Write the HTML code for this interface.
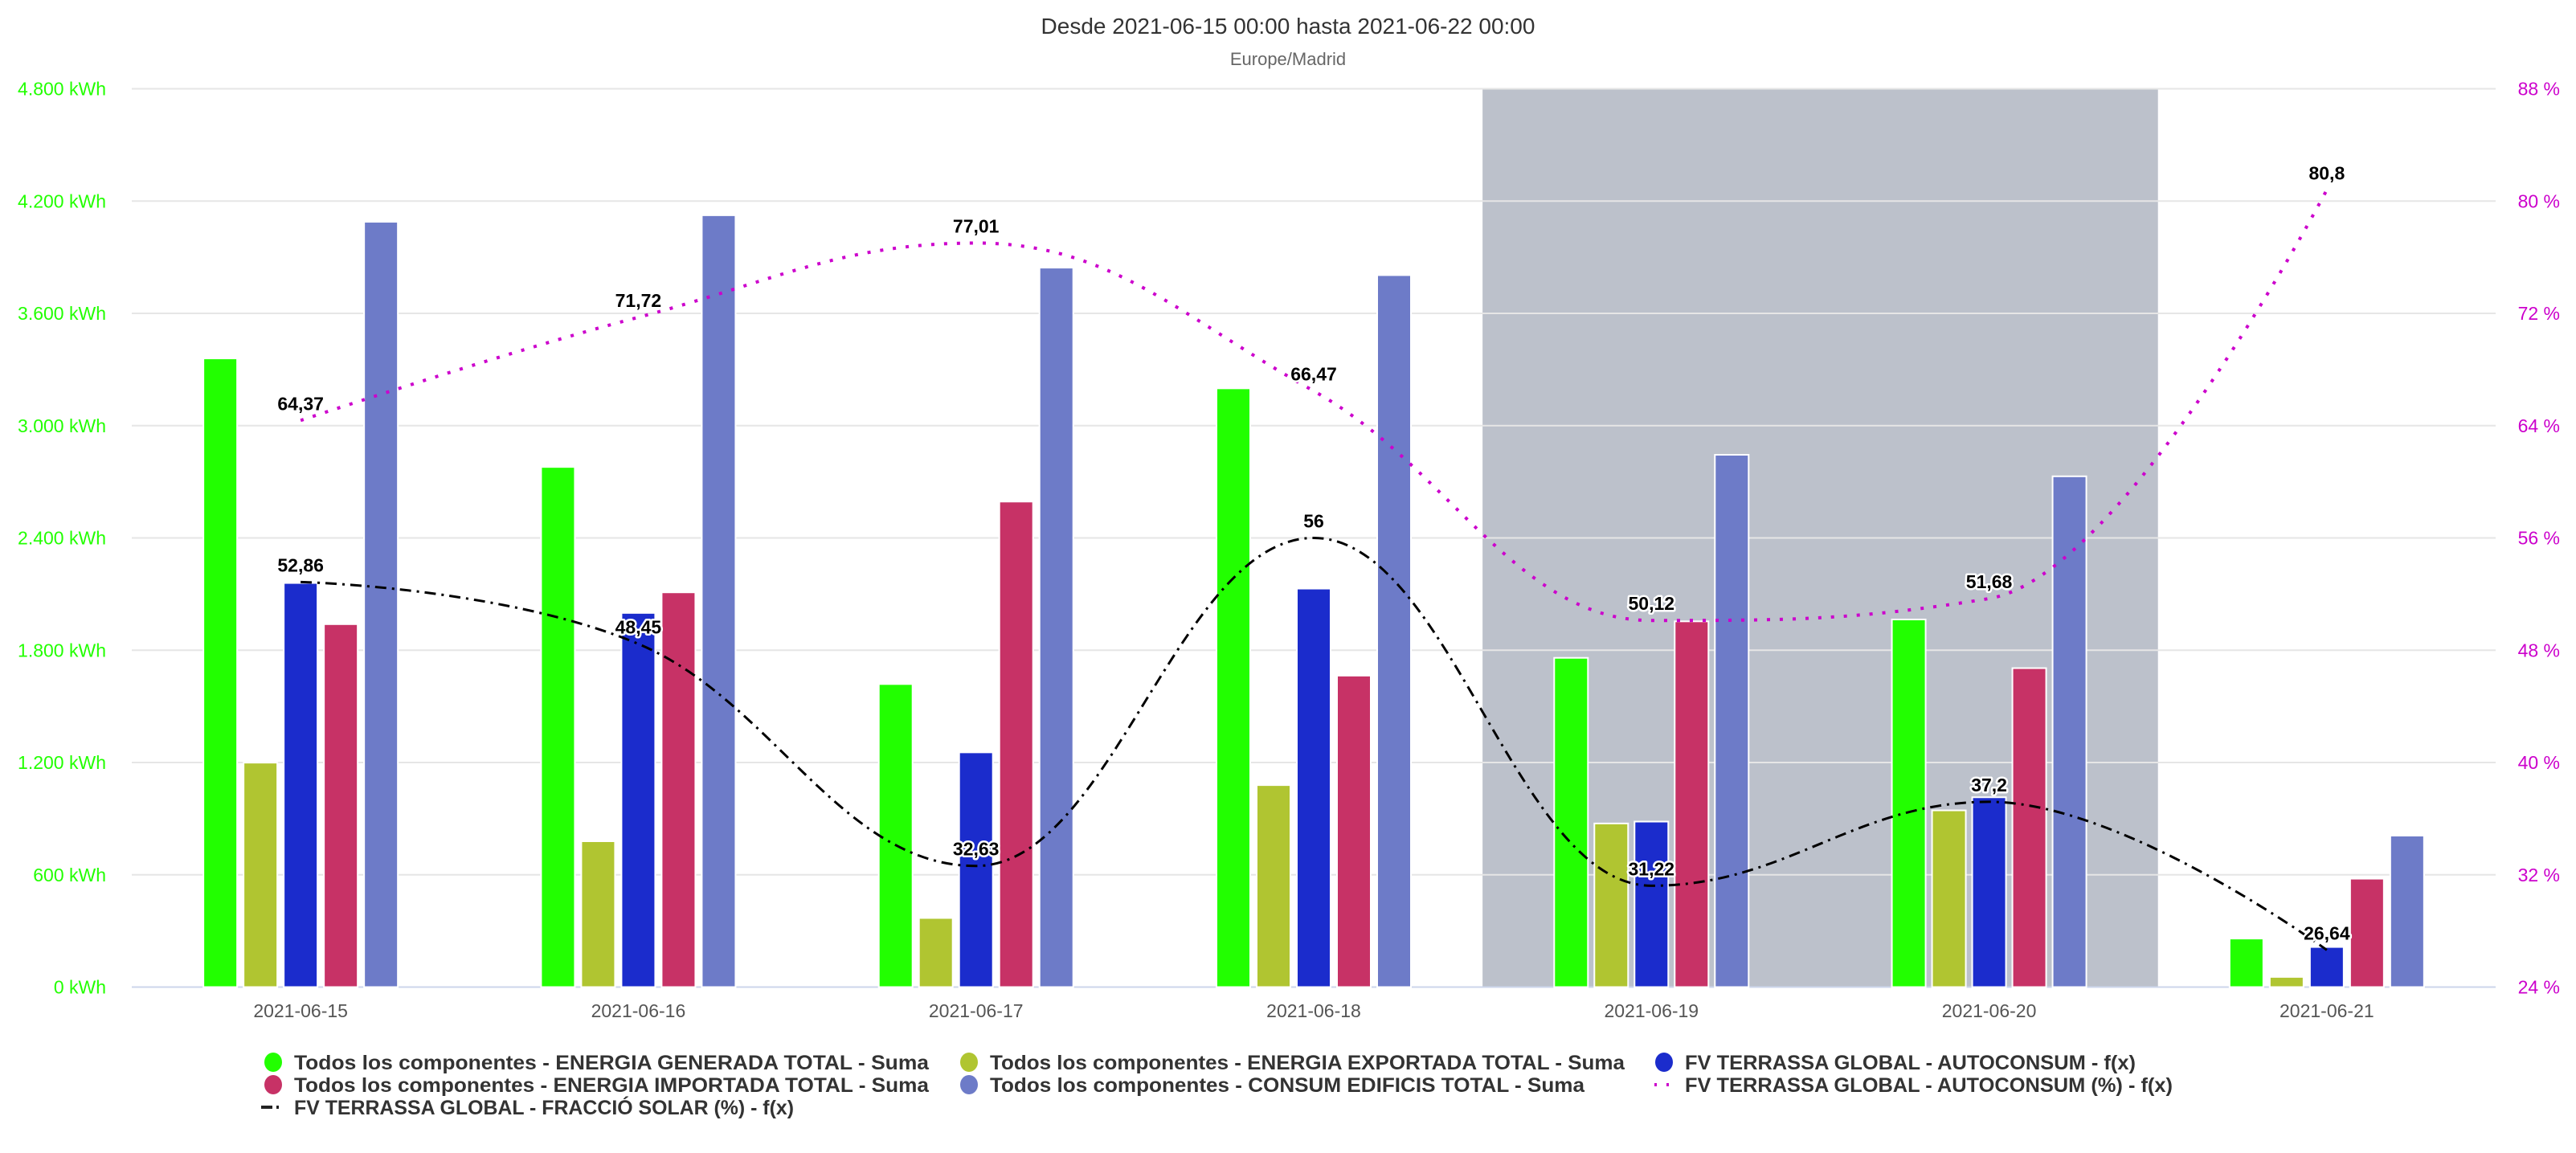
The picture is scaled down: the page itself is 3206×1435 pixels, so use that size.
<!DOCTYPE html>
<html><head><meta charset="utf-8"><style>
html,body{margin:0;padding:0;background:#fff;}
svg text{font-family:"Liberation Sans",sans-serif;}
</style></head><body>
<svg id="s" width="3206" height="1430" xmlns="http://www.w3.org/2000/svg"></svg>
<script>
const S=document.getElementById('s');
let h='';
const L=164,R=3106,T=110.5,B=1228.5,cw=(R-L)/7;
const yk=v=>B-v*(B-T)/4800;
const yp=p=>B-(p-24)*(B-T)/64;
h+=`<rect x="${L+4*cw}" y="${T}" width="${2*cw}" height="${B-T}" fill="#bcc1cb"/>`;
for(let i=0;i<=8;i++){const y=T+i*(B-T)/8;
 if(i<8)h+=`<line x1="${L}" x2="${R}" y1="${y}" y2="${y}" stroke="#e6e6e6" stroke-width="2"/>`;
 h+=`<text x="132" y="${y+8}" text-anchor="end" font-size="23" fill="#22ff00">${['4.800','4.200','3.600','3.000','2.400','1.800','1.200','600','0'][i]} kWh</text>`;
 h+=`<text x="3186" y="${y+8}" text-anchor="end" font-size="23" fill="#cc00cc">${88-8*i} %</text>`;
}
h+=`<line x1="${L}" x2="${R}" y1="${B}" y2="${B}" stroke="#ccd6eb" stroke-width="2"/>`;
const cols=['#22ff00','#b0c531','#1b2ccc','#c73266','#6d7bc8'];
const data=[[3355,1195,2155,1935,4085],[2775,775,1995,2105,4120],[1615,365,1250,2590,3840],[3195,1075,2125,1660,3800],[1755,870,880,1950,2840],[1960,940,1010,1700,2725],[255,50,210,575,805]];
const days=['2021-06-15','2021-06-16','2021-06-17','2021-06-18','2021-06-19','2021-06-20','2021-06-21'];
data.forEach((g,i)=>{const c=L+cw*(i+.5);
 g.forEach((v,j)=>{const x=c-120+j*50,y=yk(v);h+=`<rect x="${x-1}" y="${y-1}" width="42" height="${B-y+1}" fill="${cols[j]}" stroke="#fff" stroke-width="2"/>`;});
 h+=`<text x="${c}" y="1266" text-anchor="middle" font-size="23" fill="#555">${days[i]}</text>`;
});
function spline(pts){let d=`M${pts[0][0]},${pts[0][1]}`;const rc=[],lc=[];
 for(let i=0;i<pts.length;i++){const [x,y]=pts[i];lc[i]=[x,y];rc[i]=[x,y];
  if(i>0&&i<pts.length-1){const [lx,ly]=pts[i-1],[nx,ny]=pts[i+1];const sm=1.5,dn=2.5;
   let lcx=(sm*x+lx)/dn,lcy=(sm*y+ly)/dn,rcx=(sm*x+nx)/dn,rcy=(sm*y+ny)/dn;
   const corr=((rcy-lcy)*(rcx-x))/(rcx-lcx)+y-rcy;lcy+=corr;rcy+=corr;
   if(lcy>ly&&lcy>y){lcy=Math.max(ly,y);rcy=2*y-lcy;}else if(lcy<ly&&lcy<y){lcy=Math.min(ly,y);rcy=2*y-lcy;}
   if(rcy>ny&&rcy>y){rcy=Math.max(ny,y);lcy=2*y-rcy;}else if(rcy<ny&&rcy<y){rcy=Math.min(ny,y);lcy=2*y-rcy;}
   lc[i]=[lcx,lcy];rc[i]=[rcx,rcy];}}
 for(let i=1;i<pts.length;i++)d+=` C${rc[i-1][0]},${rc[i-1][1]} ${lc[i][0]},${lc[i][1]} ${pts[i][0]},${pts[i][1]}`;return d;}
const pa=[64.37,71.72,77.01,66.47,50.12,51.68,80.8],pb=[52.86,48.45,32.63,56,31.22,37.2,26.64];
const A=pa.map((p,i)=>[L+cw*(i+.5),yp(p)]),Bp=pb.map((p,i)=>[L+cw*(i+.5),yp(p)]);
h+=`<path d="${spline(Bp)}" fill="none" stroke="#000" stroke-width="3" stroke-dasharray="14 7 3 7"/>`;
h+=`<path d="${spline(A)}" fill="none" stroke="#cc00cc" stroke-width="4" stroke-dasharray="4 12"/>`;
const lab=(pts,vals)=>pts.forEach((p,i)=>{h+=`<text x="${p[0]}" y="${p[1]-13}" text-anchor="middle" font-size="23" font-weight="bold" fill="#000" stroke="#fff" stroke-width="5" paint-order="stroke" stroke-linejoin="round">${String(vals[i]).replace('.',',')}</text>`;});
lab(Bp,pb);lab(A,pa);
h+=`<text x="1603" y="42" text-anchor="middle" font-size="28" fill="#333">Desde 2021-06-15 00:00 hasta 2021-06-22 00:00</text>`;
h+=`<text x="1603" y="81" text-anchor="middle" font-size="22" fill="#666">Europe/Madrid</text>`;
const leg=[[340,1322,'c',cols[0],'Todos los componentes - ENERGIA GENERADA TOTAL - Suma',790],
[1206,1322,'c',cols[1],'Todos los componentes - ENERGIA EXPORTADA TOTAL - Suma',790],
[2071,1322,'c',cols[2],'FV TERRASSA GLOBAL - AUTOCONSUM - f(x)',561],
[340,1350,'c',cols[3],'Todos los componentes - ENERGIA IMPORTADA TOTAL - Suma',790],
[1206,1350,'c',cols[4],'Todos los componentes - CONSUM EDIFICIS TOTAL - Suma',740],
[2071,1350,'m','#cc00cc','FV TERRASSA GLOBAL - AUTOCONSUM (%) - f(x)',607],
[340,1378,'k','#000','FV TERRASSA GLOBAL - FRACCIÓ SOLAR (%) - f(x)',622]];
leg.forEach(([x,y,t,c,s,w])=>{
 if(t=='c')h+=`<ellipse cx="${x}" cy="${y}" rx="11" ry="12" fill="${c}"/>`;
 else if(t=='m')h+=`<line x1="${x-12}" x2="${x+12}" y1="${y}" y2="${y}" stroke="${c}" stroke-width="4" stroke-dasharray="3 12"/>`;
 else h+=`<line x1="${x-15}" x2="${x+12}" y1="${y}" y2="${y}" stroke="#222" stroke-width="4" stroke-dasharray="14 5 3 20"/>`;
 h+=`<text x="${x+26}" y="${y+9}" font-size="25" font-weight="bold" fill="#333" textLength="${w}" lengthAdjust="spacingAndGlyphs">${s}</text>`;
});
S.innerHTML=h;
</script>
</body></html>
